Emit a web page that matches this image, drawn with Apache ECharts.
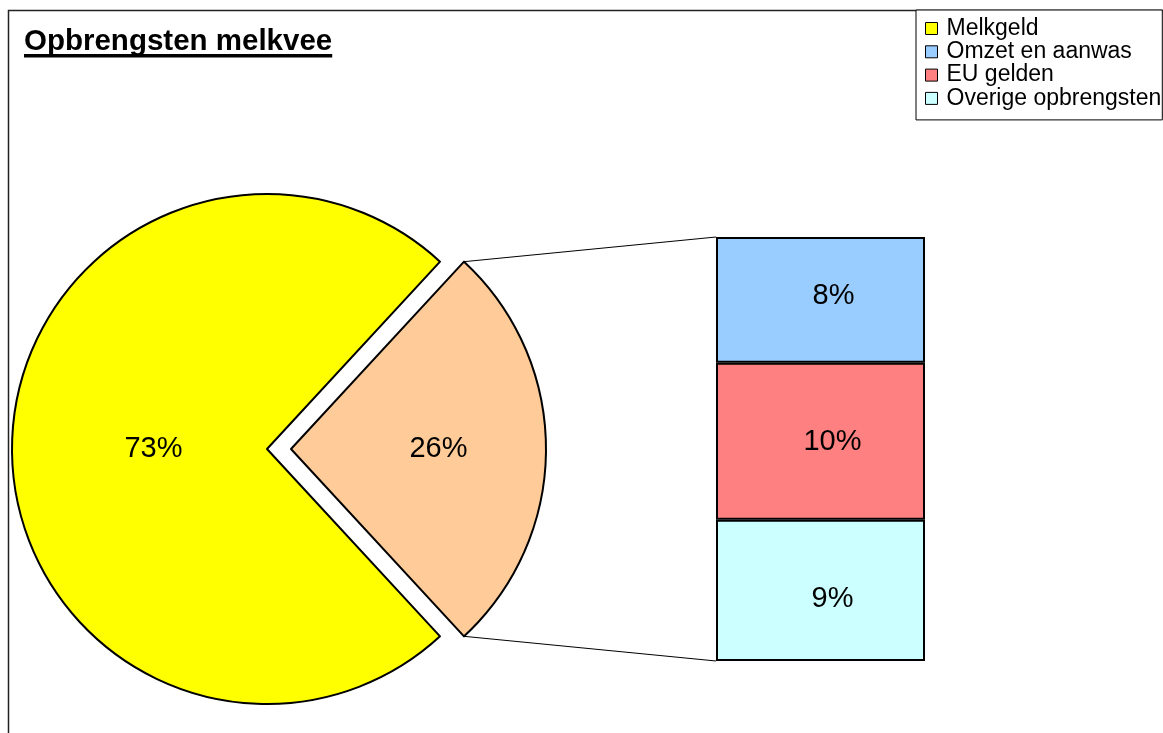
<!DOCTYPE html>
<html>
<head>
<meta charset="utf-8">
<script src="https://cdn.jsdelivr.net/npm/echarts@6/dist/echarts.min.js"></script>
<style>
  html, body { margin: 0; padding: 0; background: #fff; }
  #chart { width: 1163px; height: 733px; }
</style>
</head>
<body>
<div id="chart"></div>
<script>
// pie: Melkgeld vs. the rest (rest is split out in the bar)
var pieNames = ['Overig', 'Melkgeld']
var pieValues = [26, 73]
var pieColors = ['#FFCC99', '#FFFF00']

// bar: breakdown of the rest, bottom to top
var barNames = ['Overige opbrengsten', 'EU gelden', 'Omzet en aanwas']
var barValues = [9, 10, 8]
var barColors = ['#CCFFFF', '#FF8080', '#99CCFF']

var legendNames = ['Melkgeld', 'Omzet en aanwas', 'EU gelden', 'Overige opbrengsten']
var titleText = 'Opbrengsten melkvee'

var FONT = '"Liberation Sans", Arial, sans-serif'
var chart = echarts.init(document.getElementById('chart'))

var pieTotal = pieValues.reduce(function (a, b) { return a + b }, 0)
var restAngle = pieValues[0] / pieTotal * 360

var barOffsets = [[12, 9], [12, 1], [13, -4]]

var option = {
  animation: false,
  title: {
    text: titleText,
    left: 24,
    top: 27,
    padding: 0,
    textStyle: { fontFamily: FONT, fontSize: 29.5, fontWeight: 'bold', color: '#000' }
  },
  legend: {
    data: legendNames,
    orient: 'vertical',
    left: 916,
    top: 10,
    padding: [7, 1, 10, 9],
    itemGap: 0.3,
    itemWidth: 12,
    itemHeight: 12,
    icon: 'rect',
    borderColor: '#000',
    borderWidth: 1,
    backgroundColor: '#fff',
    selectedMode: false,
    itemStyle: { borderColor: '#000', borderWidth: 1 },
    textStyle: { fontFamily: FONT, fontSize: 23, lineHeight: 23, color: '#000', padding: [0, 0, 0, 4] }
  },
  grid: { left: 716, top: 237, width: 209, height: 424 },
  xAxis: { type: 'category', data: ['rest'], show: false },
  yAxis: { type: 'value', min: 0, max: 27, show: false },
  series: [
    {
      type: 'pie',
      center: [267, 449],
      radius: 255,
      startAngle: restAngle / 2,
      clockwise: true,
      selectedMode: 'single',
      selectedOffset: 24,
      emphasis: { disabled: true },
      itemStyle: { borderColor: '#000', borderWidth: 2 },
      label: {
        show: true,
        position: 'inner',
        fontFamily: FONT,
        fontSize: 29,
        color: '#000',
        padding: [0, 0, 0, 34],
        formatter: function (p) { return p.value + '%' }
      },
      labelLine: { show: false },
      data: pieNames.map(function (n, i) {
        return {
          name: n,
          value: pieValues[i],
          selected: i === 0,
          itemStyle: { color: pieColors[i] },
          select: { itemStyle: { color: pieColors[i], borderColor: '#000', borderWidth: 2 } }
        }
      })
    }
  ].concat(barNames.map(function (n, i) {
    return {
      name: n,
      type: 'bar',
      stack: 'rest',
      barWidth: '100%',
      data: [barValues[i]],
      emphasis: { disabled: true },
      itemStyle: { color: barColors[i], borderColor: '#000', borderWidth: 2 },
      label: {
        show: true,
        position: 'inside',
        offset: barOffsets[i],
        fontFamily: FONT,
        fontSize: 29,
        color: '#000',
        formatter: '{c}%'
      }
    }
  }))
}

chart.setOption(option)

// connector lines from the exploded slice to the bar, plus frame and title underline
function addExtras() {
  var pieSeries = chart.getModel().getSeriesByIndex(0)
  var lay = pieSeries.getData().getItemLayout(0)
  var mid = (lay.startAngle + lay.endAngle) / 2
  var off = pieSeries.get('selectedOffset')
  var cx = lay.cx + Math.cos(mid) * off
  var cy = lay.cy + Math.sin(mid) * off
  var pTop = [cx + lay.r * Math.cos(lay.startAngle), cy + lay.r * Math.sin(lay.startAngle)]
  var pBot = [cx + lay.r * Math.cos(lay.endAngle), cy + lay.r * Math.sin(lay.endAngle)]

  var topBar = chart.getModel().getSeriesByIndex(barNames.length).getData().getItemLayout(0)
  var botBar = chart.getModel().getSeriesByIndex(1).getData().getItemLayout(0)
  var barTop = [topBar.x, Math.min(topBar.y, topBar.y + topBar.height)]
  var barBot = [botBar.x, Math.max(botBar.y, botBar.y + botBar.height)]

  var ctx = document.createElement('canvas').getContext('2d')
  ctx.font = 'bold 29.5px ' + FONT
  var titleW = ctx.measureText(titleText).width

  chart.setOption({
    graphic: [
      {
        type: 'rect', silent: true, z: -1,
        shape: { x: 8.5, y: 10.5, width: 1300, height: 900 },
        style: { fill: 'none', stroke: '#222', lineWidth: 1.5 }
      },
      {
        type: 'rect', silent: true,
        shape: { x: 24, y: 54, width: titleW, height: 3.5 },
        style: { fill: '#000' }
      },
      {
        type: 'line', silent: true,
        shape: { x1: pTop[0], y1: pTop[1], x2: barTop[0], y2: barTop[1] },
        style: { stroke: '#000', lineWidth: 1 }
      },
      {
        type: 'line', silent: true,
        shape: { x1: pBot[0], y1: pBot[1], x2: barBot[0], y2: barBot[1] },
        style: { stroke: '#000', lineWidth: 1 }
      }
    ]
  })
}
addExtras()
</script>
</body>
</html>
